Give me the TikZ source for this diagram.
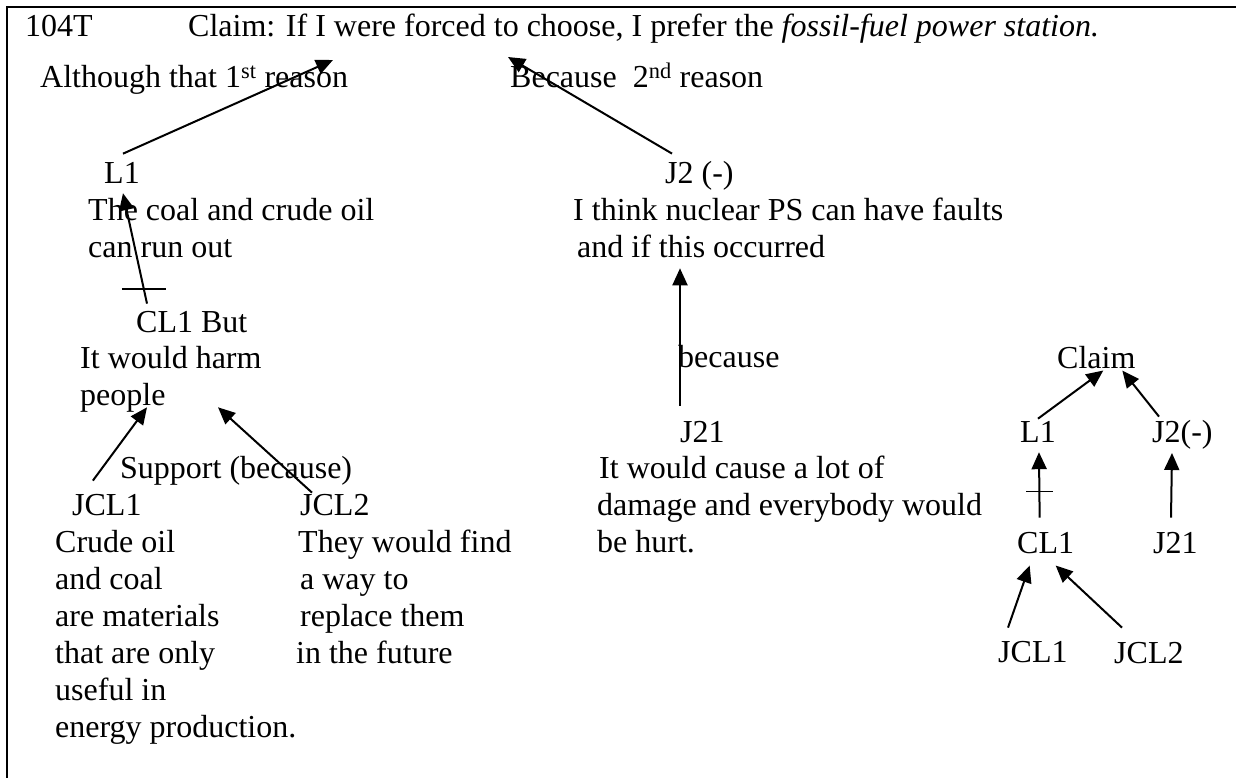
\documentclass[tikz,border=0pt]{standalone}
\usepackage{fontspec}
\setmainfont{Liberation Serif}
\usetikzlibrary{arrows.meta,calc}
\newcommand{\txtlines}[1]{\begin{tabular}[t]{@{}l@{}}#1\end{tabular}}

\begin{document}
\begin{tikzpicture}[
  x=1pt, y=-1pt,
  txt/.style={anchor=base west, inner sep=0pt,
              font=\fontsize{32}{37}\selectfont},
  arr/.style={-{Triangle[length=17pt,width=15pt]}, line width=2pt},
  cross/.style={line width=1.6pt}
]
\useasboundingbox (0,0) rectangle (1236,778);

% Frame
\draw[line width=2.2pt] (7,778) -- (7,7) -- (1236,7);

% Header
\node[txt] (code) at (25,37) {104T};
\node[txt] (claim) at (188,37) {Claim: If I were forced to choose, I prefer the \textit{fossil-fuel power station.}};
\node[txt] (although) at (40,88) {Although that 1\textsuperscript{st} reason};
\node[txt] (because) at (510,88) {Because\ \ 2\textsuperscript{nd} reason};

% Left branch
\node[txt] (L1) at (104,183) {L1};
\node[txt] (L1txt) at (88,220) {\txtlines{The coal and crude oil\\can run out}};
\node[txt] (CL1) at (136,332) {CL1 But};
\node[txt] (CL1txt) at (80,368) {\txtlines{It would harm\\people}};
\node[txt] (support) at (120,478) {Support (because)};
\node[txt] (JCL1) at (72,515) {JCL1};
\node[txt] (JCL2) at (300,515) {JCL2};
\node[txt] (JCL1txt) at (55,552) {\txtlines{Crude oil\\and coal\\are materials\\that are only\\useful in\\energy production.}};
\node[txt] (JCL2txt) at (298,552) {\txtlines{They would find\\\hspace{2pt}a way to\\\hspace{2pt}replace them\\\hspace{-2pt}in the future}};

% Right branch
\node[txt] (J2) at (665,183) {J2 (-)};
\node[txt] (J2txt) at (573,220) {\txtlines{I think nuclear PS can have faults\\\hspace{4pt}and if this occurred}};
\node[txt] (because2) at (678,367) {because};
\node[txt] (J21) at (680,442) {J21};
\node[txt] (J21txt) at (599,478) {\txtlines{It would cause a lot of\\\hspace{-2pt}damage and everybody would\\\hspace{-2pt}be hurt.}};

% Summary tree
\node[txt] (sClaim) at (1057,368) {Claim};
\node[txt] (sL1) at (1020,442) {L1};
\node[txt] (sJ2) at (1152,442) {J2(-)};
\node[txt] (sCL1) at (1017,553) {CL1};
\node[txt] (sJ21) at (1153,553) {J21};
\node[txt] (sJCL1) at (998,662) {JCL1};
\node[txt] (sJCL2) at (1114,663) {JCL2};

% Arrows to the claim
\draw[arr] ($(L1.north)+(1,-8)$) -- ($(claim.south west)+(145,16)$);
\draw[arr] ($(J2.north west)+(7,-7)$) -- ($(claim.south west)+(320,13)$);

% Rebuttal and supports
\draw[arr] ($(CL1.north west)+(11,-7)$) -- coordinate[pos=0.13] (t1) ($(L1.south)+(1,10)$);
\draw[cross] (t1) +(-22,0) -- +(22,0);
\draw[arr] ($(JCL1.north)+(-14,-13)$) -- ($(CL1txt.south west)+(67,-9)$);
\draw[arr] ($(JCL2.north west)+(12,-1)$) -- ($(CL1txt.south west)+(138,-9)$);
\draw[arr] ($(J21.north west)+(0,-15)$) -- ($(J21.north west |- J2txt.south)+(0,0)$);

% Summary arrows
\draw[arr] ($(sL1.north)+(0,-2)$) -- ($(sClaim.south)+(7,2)$);
\draw[arr] ($(sJ2.north west)+(7,-3)$) -- ($(sClaim.south)+(26,2)$);
\draw[arr] ($(sCL1.north)+(-6,-14)$) -- coordinate[pos=0.4] (t2) ($(sL1.south)+(1,10)$);
\draw[cross] (t2) +(-13,0) -- +(14,0);
\draw[arr] ($(sJ21.north west)+(18,-14)$) -- ($(sJ2.south west)+(20,4)$);
\draw[arr] ($(sJCL1.north west)+(10,-13)$) -- ($(sCL1.south)+(-16,12)$);
\draw[arr] ($(sJCL2.north west)+(8,-14)$) -- ($(sCL1.south)+(10,12)$);

\end{tikzpicture}
\end{document}
